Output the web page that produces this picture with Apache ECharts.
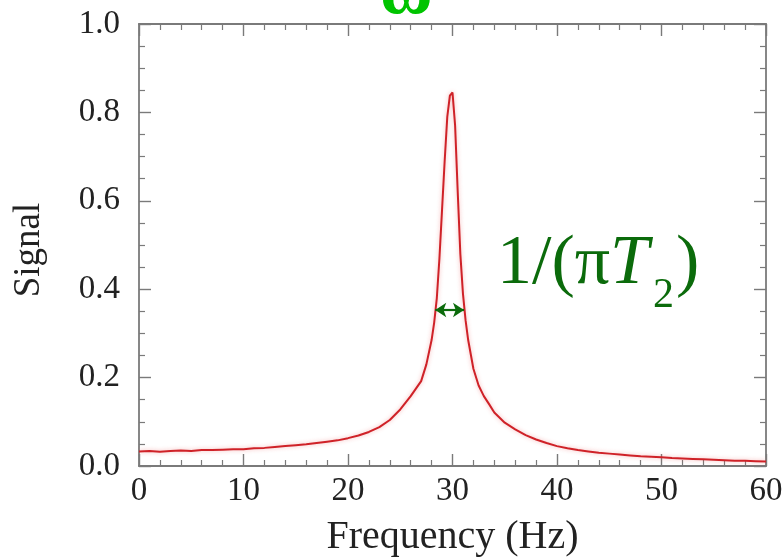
<!DOCTYPE html>
<html>
<head>
<meta charset="utf-8">
<script src="https://cdn.jsdelivr.net/npm/echarts@6/dist/echarts.min.js"></script>
<style>
html,body{margin:0;padding:0;background:#fff;}
#chart{width:782px;height:557px;}
</style>
</head>
<body>
<div id="chart"></div>
<script>
// ---- data ----
var freq = [0,1,2,3,4,5,6,7,8,9,10,11,12,13,14,15,16,17,18,19,20,21,22,23,24,25,26,26.5,27,27.5,28,28.25,28.5,28.75,29,29.25,29.5,29.75,30,30.25,30.5,30.75,31,31.25,31.5,32,32.5,33,33.5,34,35,36,37,38,39,40,41,42,43,44,45,46,47,48,49,50,51,52,53,54,55,56,57,58,59,60];
var signal = [0.033,0.034,0.032,0.034,0.035,0.034,0.036,0.036,0.037,0.038,0.038,0.040,0.041,0.043,0.045,0.047,0.049,0.052,0.055,0.058,0.063,0.069,0.077,0.088,0.104,0.128,0.158,0.175,0.192,0.230,0.285,0.325,0.380,0.470,0.580,0.690,0.790,0.838,0.845,0.770,0.620,0.480,0.390,0.330,0.285,0.220,0.182,0.158,0.140,0.121,0.098,0.083,0.070,0.060,0.052,0.045,0.040,0.036,0.033,0.030,0.028,0.026,0.024,0.022,0.021,0.020,0.018,0.017,0.016,0.015,0.014,0.013,0.012,0.012,0.011,0.010];
var xTicks = [0,10,20,30,40,50,60];
var yTicks = [0.0,0.2,0.4,0.6,0.8,1.0];
var widthMarker = {from: 28.35, to: 31.1, level: 0.353};

var seriesData = freq.map(function(f, i){ return [f, signal[i]]; });

var axisColor = '#7a7a7a';
var green = '#0b6b0b';
var serif = '"Liberation Serif", "DejaVu Serif", serif';

var chart = echarts.init(document.getElementById('chart'), null, {renderer:'canvas'});

function xAxisCfg(pos, showLabel){
  return {
    type:'value', position:pos, min:xTicks[0], max:xTicks[xTicks.length-1], interval:10,
    name: showLabel ? 'Frequency (Hz)' : '',
    nameLocation:'middle', nameGap:51,
    nameTextStyle:{fontFamily:serif, fontSize:40, color:'#222'},
    axisLine:{show:true, onZero:false, lineStyle:{color:axisColor, width:1.8}},
    axisTick:{show:true, inside:true, length:12, lineStyle:{color:axisColor, width:1.4}},
    minorTick:{show:true, splitNumber:5, length:6, lineStyle:{color:axisColor, width:1.2}},
    axisLabel:{show:showLabel, fontFamily:serif, fontSize:33, color:'#222', margin:9},
    splitLine:{show:false}, minorSplitLine:{show:false}
  };
}
function yAxisCfg(pos, showLabel){
  return {
    type:'value', position:pos, min:yTicks[0], max:yTicks[yTicks.length-1], interval:0.2,
    name: showLabel ? 'Signal' : '',
    nameLocation:'middle', nameGap:91, nameRotate:90,
    nameTextStyle:{fontFamily:serif, fontSize:37, color:'#222', padding:[0,10,0,0]},
    axisLine:{show:true, onZero:false, lineStyle:{color:axisColor, width:1.8}},
    axisTick:{show:true, inside:true, length:12, lineStyle:{color:axisColor, width:1.4}},
    minorTick:{show:true, splitNumber:4, length:6, lineStyle:{color:axisColor, width:1.2}},
    axisLabel:{show:showLabel, fontFamily:serif, fontSize:33, color:'#222', margin:19,
      formatter:function(v){ return v.toFixed(1); }},
    splitLine:{show:false}, minorSplitLine:{show:false}
  };
}

var option = {
  backgroundColor:'#fff',
  animation:false,
  grid:{left:139, right:16, top:24, bottom:91, containLabel:false, outerBoundsMode:'none'},
  xAxis:[xAxisCfg('bottom', true), xAxisCfg('top', false)],
  yAxis:[yAxisCfg('left', true), yAxisCfg('right', false)],
  series:[{
    type:'line', data:seriesData, showSymbol:false, smooth:false,
    lineStyle:{color:'#cf2228', width:2, shadowColor:'rgba(235,90,90,0.45)', shadowBlur:4},
    markLine:{
      silent:true, symbol:['arrow','arrow'], symbolSize:[11,11],
      lineStyle:{color:green, width:2.2, type:'solid'},
      label:{show:false},
      data:[[{coord:[widthMarker.from, widthMarker.level]},{coord:[widthMarker.to, widthMarker.level]}]]
    }
  }],
  graphic:[
    {type:'text', left:380, top:-42, style:{text:'\u03c9', font:'bold 72px ' + serif, fill:'#00c400'}},
    {type:'text', left:497, top:230, style:{
      text:'{a|1/(\u03c0}{t|T}',
      rich:{
        a:{fontFamily:serif, fontSize:70, lineHeight:74, fill:green},
        t:{fontFamily:serif, fontStyle:'italic', fontSize:70, lineHeight:74, fill:green}
      }
    }},
    {type:'text', left:653, top:275, style:{text:'2', font:'42px ' + serif, fill:green}},
    {type:'text', left:676, top:230, style:{
      text:'{a|)}', rich:{a:{fontFamily:serif, fontSize:70, lineHeight:74, fill:green}}
    }}
  ]
};
chart.setOption(option);
</script>
</body>
</html>
